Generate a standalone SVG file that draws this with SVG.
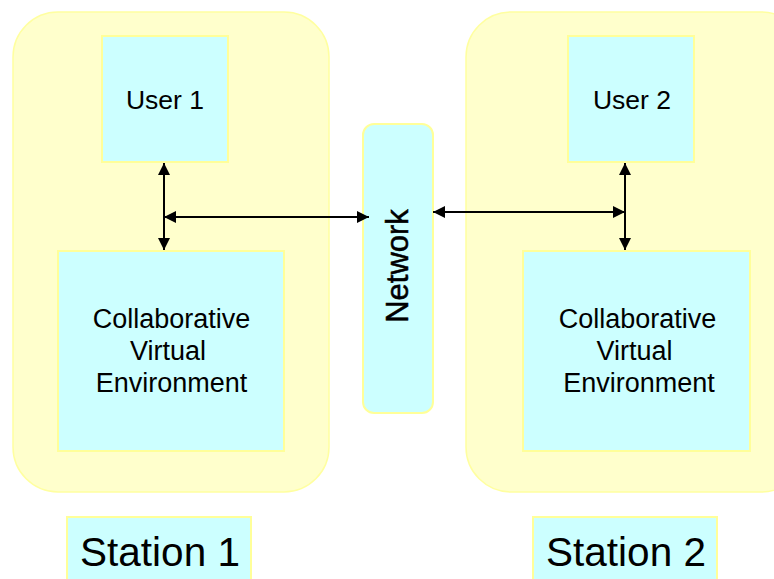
<svg xmlns="http://www.w3.org/2000/svg" width="774" height="579" viewBox="0 0 774 579">
<style>
.station{fill:#FFFFCC;stroke:#FFFFA0;stroke-width:1.5}
.box{fill:#CCFFFF;stroke:#FFFF99;stroke-width:2}
.t{font-family:"Liberation Sans",Arial,sans-serif;fill:#000;text-anchor:middle}
.conn{stroke:#000;stroke-width:2;fill:none}
</style>
<defs>
<marker id="ah" viewBox="0 0 10 10" refX="10" refY="5" markerWidth="6" markerHeight="6" orient="auto-start-reverse" markerUnits="strokeWidth">
<path d="M0,0 L10,5 L0,10 z" fill="#000"/>
</marker>
</defs>
<rect width="774" height="579" fill="#fff"/>
<g id="station1-area"><rect class="station" x="13" y="12" width="316" height="480" rx="45"/></g>
<g id="station2-area"><rect class="station" x="466" y="12" width="340" height="480" rx="45"/></g>
<g id="user1"><rect class="box" x="102" y="36" width="126" height="126"/><text class="t" x="165" y="109" font-size="26.5">User 1</text></g>
<g id="cve1"><rect class="box" x="58" y="251" width="226" height="200"/>
<text class="t" x="171.5" y="328" font-size="27">Collaborative</text>
<text class="t" x="168" y="360" font-size="27">Virtual</text>
<text class="t" x="171.5" y="392" font-size="27">Environment</text></g>
<g id="network"><rect class="box" x="363" y="124" width="70" height="289" rx="11"/>
<text class="t" transform="translate(408,266) rotate(-90)" font-size="31" stroke="#000" stroke-width="0.5">Network</text></g>
<g id="user2"><rect class="box" x="568" y="36" width="126" height="126"/><text class="t" x="632" y="109" font-size="26.5">User 2</text></g>
<g id="cve2"><rect class="box" x="523" y="251" width="227" height="200"/>
<text class="t" x="637.5" y="328" font-size="27">Collaborative</text>
<text class="t" x="634.5" y="360" font-size="27">Virtual</text>
<text class="t" x="639" y="392" font-size="27">Environment</text></g>
<g id="station1-label"><rect class="box" x="67" y="517" width="184" height="70"/><text class="t" x="160" y="566" font-size="40.5">Station 1</text></g>
<g id="station2-label"><rect class="box" x="533" y="517" width="184" height="70"/><text class="t" x="626" y="566" font-size="40.5">Station 2</text></g>
<g id="connectors">
<line class="conn" x1="164" y1="163" x2="164" y2="250" marker-start="url(#ah)" marker-end="url(#ah)"/>
<line class="conn" x1="164" y1="217" x2="369" y2="217" marker-start="url(#ah)" marker-end="url(#ah)"/>
<line class="conn" x1="433" y1="212" x2="625" y2="212" marker-start="url(#ah)" marker-end="url(#ah)"/>
<line class="conn" x1="625" y1="163" x2="625" y2="250" marker-start="url(#ah)" marker-end="url(#ah)"/>
</g>
</svg>
